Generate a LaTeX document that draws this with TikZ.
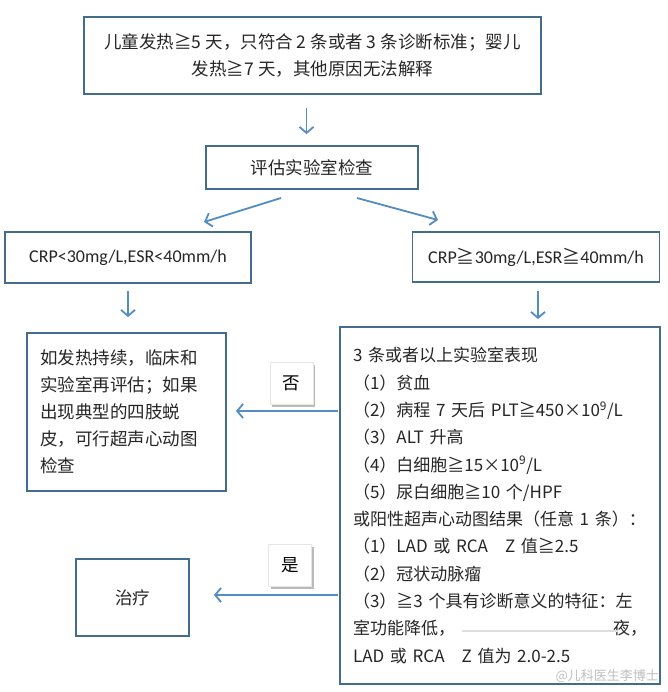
\documentclass[tikz,border=0pt]{standalone}
\usepackage{fontspec}
\setmainfont{Noto Sans CJK SC}
\newfontfamily\latf{Carlito}
\newfontfamily\cjkf{Noto Sans CJK SC}
\usetikzlibrary{arrows.meta,shadows}
\definecolor{boxc}{RGB}{68,108,140}
\definecolor{arrc}{RGB}{84,141,196}
\begin{document}
\begin{tikzpicture}[x=1pt,y=-1pt,
  font=\fontsize{17.5}{27}\selectfont,
  box/.style={draw=boxc,line width=1.8pt,inner sep=0pt,align=center,text=black!85},
  arr/.style={draw=arrc,line width=1.8pt,-{Straight Barb[length=6pt,width=14pt]}},
  lbl/.style={fill=white,draw=gray!20,line width=0.5pt,minimum width=43pt,minimum height=42pt,inner sep=0pt,
    drop shadow={shadow xshift=2pt,shadow yshift=-2.5pt,fill=black!45,opacity=0.6}}]
\useasboundingbox[fill=white] (0,0) rectangle (667,692);

\node[box,minimum width=457pt,minimum height=77pt] (top) at (312.5,55.5)
  {儿童发热≧5 天，只符合 2 条或者 3 条诊断标准；婴儿\\发热≧7 天，其他原因无法解释};
\node[box,minimum width=212pt,minimum height=43pt] (eval) at (312,167.5) {评估实验室检查};
\node[box,minimum width=246pt,minimum height=51pt] (lo) at (128,257.5)
  {\latf\fontsize{18}{20}\selectfont CRP<30mg/L,ESR<40mm/h};
\node[box,minimum width=247pt,minimum height=50pt] (hi) at (536,257)
  {\latf\fontsize{18}{20}\selectfont CRP{\cjkf ≧}30mg/L,ESR{\cjkf ≧}40mm/h};
\node[box,minimum width=199pt,minimum height=158pt,text width=173pt,align=left] (re) at (126.5,412)
  {如发热持续，临床和\\实验室再评估；如果\\出现典型的四肢蜕\\皮，可行超声心动图\\检查};
\node[box,minimum width=320pt,minimum height=357pt,text width=294pt,align=left,
  font=\fontsize{17}{27.3}\selectfont] (lab) at (500,505.5)
  {3 条或者以上实验室表现\\
   （1）贫血\\
   （2）病程 7 天后 PLT≧450×10\textsuperscript{9}/L\\
   （3）ALT 升高\\
   （4）白细胞≧15×10\textsuperscript{9}/L\\
   （5）尿白细胞≧10 个/HPF\\
   或阳性超声心动图结果（任意 1 条）：\\
   （1）LAD 或 RCA\quad Z 值≧2.5\\
   （2）冠状动脉瘤\\
   （3）≧3 个具有诊断意义的特征：左\\
   室功能降低，\hfill 夜，\\
   LAD 或 RCA\quad Z 值为 2.0-2.5};
\node[box,minimum width=113pt,minimum height=77pt] (tx) at (132.5,597.5) {治疗};

\node[lbl] (no) at (291.5,383) {否};
\node[lbl] (yes) at (290,565) {是};

\draw[gray!25,line width=1.2pt] (462,631) -- (618,631);
\node[text=gray!50,font=\fontsize{13}{13}\selectfont,anchor=east,inner sep=0pt] (wm) at (659,676) {@儿科医生李博士};

\coordinate (d1s) at (281,198);
\coordinate (d1e) at (204,222);
\coordinate (d2s) at (357,198);
\coordinate (d2e) at (438,220);
\coordinate (ny) at (0,411);
\coordinate (yy) at (0,595);

\draw[arr,shorten <=13pt,shorten >=11pt] ([xshift=-6pt]top.south) -- ([xshift=-6pt]top.south |- eval.north);
\draw[arr] (d1s) -- (d1e);
\draw[arr] (d2s) -- (d2e);
\draw[arr,shorten <=7pt,shorten >=15pt] (lo.south) -- (lo.south |- re.north);
\draw[arr,shorten <=8pt,shorten >=7pt] ([xshift=2pt]hi.south) -- ([xshift=2pt]hi.south |- lab.north);
\draw[arr,shorten <=1pt,shorten >=9pt] (lab.west |- ny) -- (re.east |- ny);
\draw[arr,shorten <=1pt,shorten >=24pt] (lab.west |- yy) -- (tx.east |- yy);
\end{tikzpicture}
\end{document}
